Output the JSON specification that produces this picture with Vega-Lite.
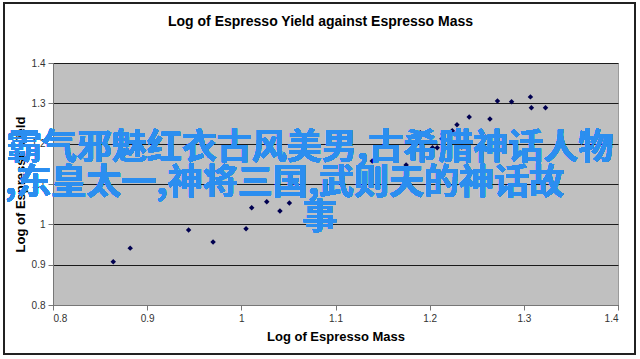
{
  "$schema": "https://vega.github.io/schema/vega-lite/v6.json",
  "autosize": {"type": "none"},
  "width": 565,
  "height": 242,
  "padding": {"left": 53, "top": 63, "right": 22, "bottom": 54},
  "background": "white",
  "title": {
    "text": "Log of Espresso Yield against Espresso Mass",
    "font": "Liberation Sans",
    "fontSize": 14,
    "fontWeight": "bold",
    "fontStyle": "normal",
    "color": "#000",
    "anchor": "middle",
    "frame": "group",
    "baseline": "alphabetic",
    "offset": -38,
    "dx": -15
  },
  "config": {
    "view": {"fill": "#c0c0c0", "stroke": "#9a9a9a", "strokeWidth": 1},
    "axis": {
      "labelFont": "Liberation Sans",
      "labelFontSize": 10,
      "labelColor": "#333",
      "titleFont": "Liberation Sans",
      "titleFontSize": 13,
      "titleFontWeight": "bold",
      "titleColor": "#000",
      "domainColor": "#777",
      "tickColor": "#777",
      "tickSize": 5,
      "labelPadding": 3
    }
  },
  "data": {
    "values": [
      {"mass": 0.864, "yield": 0.907},
      {"mass": 0.882, "yield": 0.941},
      {"mass": 0.944, "yield": 0.986},
      {"mass": 0.970, "yield": 0.956},
      {"mass": 1.005, "yield": 0.989},
      {"mass": 1.011, "yield": 1.041},
      {"mass": 1.027, "yield": 1.056},
      {"mass": 1.041, "yield": 1.033},
      {"mass": 1.051, "yield": 1.053},
      {"mass": 1.139, "yield": 1.157},
      {"mass": 1.175, "yield": 1.147},
      {"mass": 1.190, "yield": 1.227},
      {"mass": 1.203, "yield": 1.190},
      {"mass": 1.208, "yield": 1.190},
      {"mass": 1.213, "yield": 1.212},
      {"mass": 1.214, "yield": 1.224},
      {"mass": 1.224, "yield": 1.232},
      {"mass": 1.227, "yield": 1.224},
      {"mass": 1.229, "yield": 1.247},
      {"mass": 1.234, "yield": 1.192},
      {"mass": 1.242, "yield": 1.266},
      {"mass": 1.264, "yield": 1.261},
      {"mass": 1.272, "yield": 1.306},
      {"mass": 1.287, "yield": 1.304},
      {"mass": 1.307, "yield": 1.316},
      {"mass": 1.308, "yield": 1.289},
      {"mass": 1.323, "yield": 1.289}
    ]
  },
  "layer": [
    {
      "mark": {"type": "point", "shape": "diamond", "filled": true, "size": 30, "color": "#000050", "opacity": 1},
      "encoding": {
        "x": {
          "field": "mass", "type": "quantitative",
          "scale": {"domain": [0.8, 1.4], "nice": false, "zero": false},
          "axis": {"title": "Log of Espresso Mass", "values": [0.8, 0.9, 1.0, 1.1, 1.2, 1.3, 1.4], "format": "~g", "grid": false, "titlePadding": 7}
        },
        "y": {
          "field": "yield", "type": "quantitative",
          "scale": {"domain": [0.8, 1.4], "nice": false, "zero": false},
          "axis": {"title": "Log of Espresso Yield", "values": [0.8, 0.9, 1.0, 1.1, 1.2, 1.3, 1.4], "format": "~g", "grid": true, "gridColor": "#1a1a1a", "gridOpacity": 1, "gridWidth": 1, "titlePadding": 4}
        }
      }
    },
    {
      "mark": {"type": "rect", "fill": null, "fillOpacity": 0, "stroke": "#222", "strokeWidth": 1.5},
      "encoding": {
        "x": {"datum": 0.748, "type": "quantitative"},
        "x2": {"datum": 1.418},
        "y": {"datum": 1.549, "type": "quantitative"},
        "y2": {"datum": 0.678}
      }
    },
    {
      "mark": {"type": "text", "font": "Noto Sans CJK SC", "fontWeight": "bold", "fontSize": 35, "color": "#2b8ef0", "align": "left", "baseline": "middle"},
      "encoding": {
        "x": {"datum": 0.751, "type": "quantitative"},
        "y": {"datum": 1.19, "type": "quantitative"},
        "text": {"value": "霸气邪魅红衣古风美男,古希腊神话人物"}
      }
    },
    {
      "mark": {"type": "text", "font": "Noto Sans CJK SC", "fontWeight": "bold", "fontSize": 35, "color": "#2b8ef0", "align": "left", "baseline": "middle"},
      "encoding": {
        "x": {"datum": 0.749, "type": "quantitative"},
        "y": {"datum": 1.103, "type": "quantitative"},
        "text": {"value": ",东皇太一,神将三国,武则天的神话故"}
      }
    },
    {
      "mark": {"type": "text", "font": "Noto Sans CJK SC", "fontWeight": "bold", "fontSize": 35, "color": "#2b8ef0", "align": "center", "baseline": "middle"},
      "encoding": {
        "x": {"datum": 1.0834, "type": "quantitative"},
        "y": {"datum": 1.016, "type": "quantitative"},
        "text": {"value": "事"}
      }
    }
  ]
}
